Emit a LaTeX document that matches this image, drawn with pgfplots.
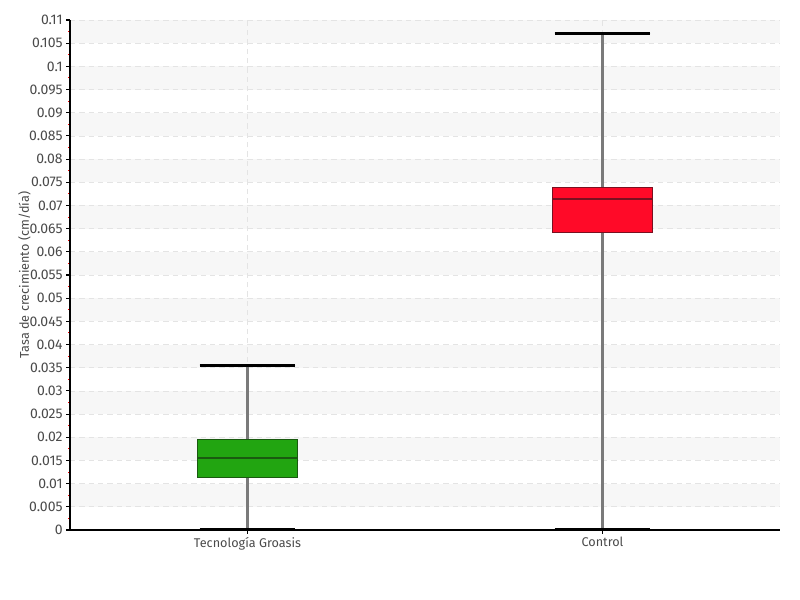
\documentclass[border=0pt]{standalone}
\usepackage{fontspec}
\setmainfont{Fira Sans}
\usepackage{pgfplots}
\pgfplotsset{compat=1.18}
\usepgfplotslibrary{statistics}
\definecolor{txt}{HTML}{4A4A4A}
\definecolor{gridc}{HTML}{E4E4E4}
\definecolor{band}{HTML}{F7F7F7}
\definecolor{gfill}{HTML}{22A511}
\definecolor{gedge}{HTML}{1A5A10}
\definecolor{rfill}{HTML}{FF0A28}
\definecolor{redge}{HTML}{7A1020}
\definecolor{wcol}{HTML}{7A7A7A}

\pgfplotsset{
  my box/.style={
    boxplot/draw direction=y,
    boxplot/box extend=0.28,
    boxplot/whisker extend=0.27,
    boxplot/draw/lower whisker/.code={%
      \draw[wcol, line width=1.6pt]
        (boxplot box cs:\pgfplotsboxplotvalue{lower whisker},0.5)
        -- (boxplot box cs:\pgfplotsboxplotvalue{lower quartile},0.5);
      \draw[black, line width=2.2pt]
        (boxplot whisker cs:\pgfplotsboxplotvalue{lower whisker},0)
        -- (boxplot whisker cs:\pgfplotsboxplotvalue{lower whisker},1);
    },
    boxplot/draw/upper whisker/.code={%
      \draw[wcol, line width=1.6pt]
        (boxplot box cs:\pgfplotsboxplotvalue{upper whisker},0.5)
        -- (boxplot box cs:\pgfplotsboxplotvalue{upper quartile},0.5);
      \draw[black, line width=2.2pt]
        (boxplot whisker cs:\pgfplotsboxplotvalue{upper whisker},0)
        -- (boxplot whisker cs:\pgfplotsboxplotvalue{upper whisker},1);
    },
  }
}

\begin{document}
\begin{tikzpicture}
\begin{axis}[
    set layers,
    scale only axis,
    width=532.5pt, height=382.5pt,
    xmin=-0.5, xmax=1.5,
    ymin=0, ymax=0.11,
    xtick={0,1},
    xticklabels={Tecnología Groasis, Control},
    ytick={0,0.005,0.01,0.015,0.02,0.025,0.03,0.035,0.04,0.045,0.05,0.055,0.06,0.065,0.07,0.075,0.08,0.085,0.09,0.095,0.1,0.105,0.11},
    minor y tick num=1,
    axis lines*=left,
    axis line style={black, line width=0.8pt},
    tick align=outside,
    major tick length=3pt,
    minor tick length=1.5pt,
    tick style={black, line width=0.8pt},
    minor tick style={red, line width=0.8pt},
    x tick style={black},
    ymajorgrids, xmajorgrids,
    grid style={gridc, dash pattern=on 4pt off 3pt, line width=0.6pt},
    yticklabel style={font=\fontsize{10.5}{11}\selectfont, text=txt, xshift=1pt,
      /pgf/number format/fixed, /pgf/number format/precision=3,
      /pgf/number format/assume math mode=true},
    xticklabel style={font=\fontsize{9.5}{10}\selectfont, text=txt, yshift=1pt},
    ylabel={Tasa de crecimiento (cm/día)},
    ylabel style={font=\fontsize{9.5}{10}\selectfont, text=txt, yshift=-8pt},
    clip=false,
]
\pgfplotsinvokeforeach{0,...,10}{
  \begin{pgfonlayer}{axis background}
  \fill[band] (axis cs:-0.5,{0.005+0.01*#1}) rectangle (axis cs:1.5,{0.01+0.01*#1});
  \end{pgfonlayer}
}
% Tecnologia Groasis
\addplot+[my box, boxplot prepared={
    draw position=0,
    lower whisker=0.0002, lower quartile=0.0114,
    median=0.0155, upper quartile=0.0196,
    upper whisker=0.0354},
  fill=gfill, draw=gedge, line width=0.8pt, mark=none,
  boxplot/every median/.style={draw=gedge, line width=1pt}]
  coordinates {};
% Control
\addplot+[my box, boxplot prepared={
    draw position=1,
    lower whisker=0.0002, lower quartile=0.0641,
    median=0.0714, upper quartile=0.0738,
    upper whisker=0.1070},
  fill=rfill, draw=redge, line width=0.8pt, mark=none,
  boxplot/every median/.style={draw=redge, line width=1pt}]
  coordinates {};
\end{axis}
\path[use as bounding box]
  ([shift={(-52.5pt,-52.5pt)}]current axis.south west)
  rectangle ([shift={(15pt,15pt)}]current axis.north east);
\end{tikzpicture}
\end{document}
